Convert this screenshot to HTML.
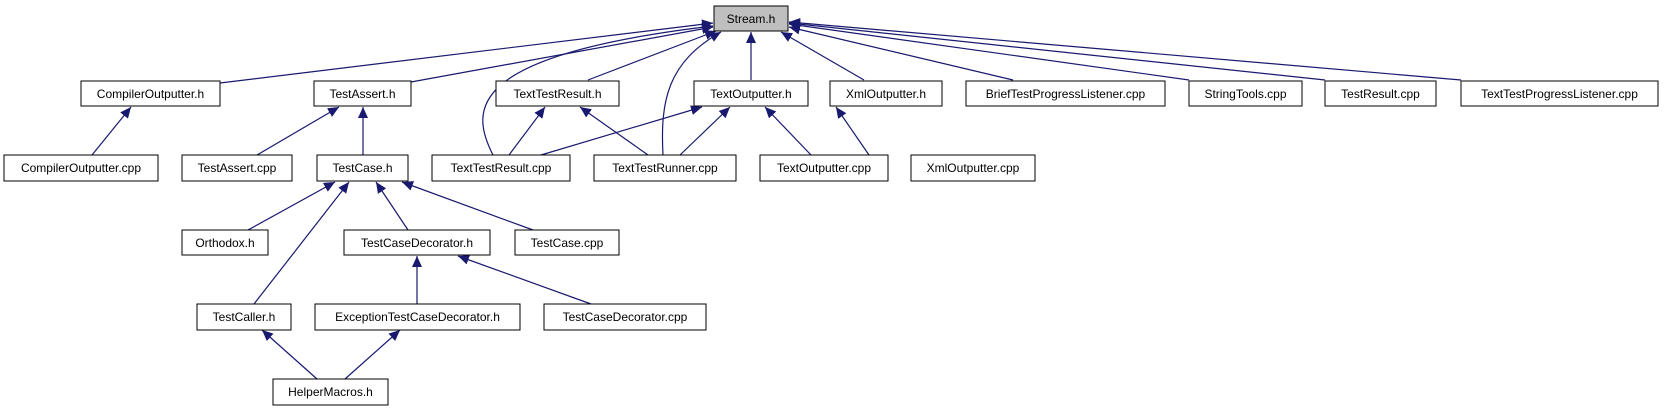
<!DOCTYPE html>
<html><head><meta charset="utf-8"><style>
html,body{margin:0;padding:0;background:#fff;}
svg{display:block;}
text{font-family:"Liberation Sans",sans-serif;font-size:12px;fill:#000;}
</style></head><body>
<svg width="1664" height="411" viewBox="0 0 1664 411" xmlns="http://www.w3.org/2000/svg">
<defs>
<marker id="a" markerUnits="userSpaceOnUse" markerWidth="12" markerHeight="10" refX="11" refY="5" orient="auto">
<path d="M0,0 L11,5 L0,10 Z" fill="#191970"/>
</marker>
</defs>
<g stroke="#191970" stroke-width="1.2" fill="none" marker-end="url(#a)">
<line x1="220" y1="83" x2="713" y2="23"/>
<line x1="411" y1="82" x2="713" y2="27"/>
<path d="M493,155 C470,110 465,55 713,26"/>
<line x1="588" y1="80" x2="716" y2="31"/>
<path d="M663,155 C660,100 668,62 721,32"/>
<line x1="751" y1="80" x2="751" y2="32"/>
<line x1="864" y1="80" x2="781" y2="32"/>
<line x1="1013" y1="80" x2="789" y2="27"/>
<line x1="1189" y1="80" x2="789" y2="24"/>
<line x1="1325" y1="80" x2="789" y2="23"/>
<line x1="1461" y1="80" x2="789" y2="22"/>
<line x1="92" y1="155" x2="131" y2="107"/>
<line x1="257" y1="155" x2="339" y2="107"/>
<line x1="363" y1="155" x2="363" y2="107"/>
<line x1="509" y1="155" x2="545" y2="107"/>
<line x1="648" y1="155" x2="580" y2="107"/>
<line x1="541" y1="155" x2="702" y2="107"/>
<line x1="680" y1="155" x2="730" y2="107"/>
<line x1="811" y1="155" x2="765" y2="107"/>
<line x1="869" y1="155" x2="836" y2="107"/>
<line x1="248" y1="230" x2="335" y2="182"/>
<line x1="254" y1="304" x2="349" y2="182"/>
<line x1="408" y1="230" x2="376" y2="182"/>
<line x1="533" y1="230" x2="402" y2="182"/>
<line x1="417" y1="304" x2="417" y2="256"/>
<line x1="591" y1="304" x2="458" y2="256"/>
<line x1="317" y1="379" x2="262" y2="330"/>
<line x1="345" y1="379" x2="400" y2="330"/>
</g>
<g stroke="#000" stroke-width="1" fill="#fff">
<rect x="714" y="6" width="74" height="25" fill="#bfbfbf"/>
<rect x="81" y="81" width="139" height="25"/>
<rect x="314" y="81" width="97" height="25"/>
<rect x="496" y="81" width="123" height="25"/>
<rect x="694" y="81" width="114" height="25"/>
<rect x="830" y="81" width="112" height="25"/>
<rect x="966" y="81" width="199" height="25"/>
<rect x="1189" y="81" width="113" height="25"/>
<rect x="1325" y="81" width="111" height="25"/>
<rect x="1461" y="81" width="197" height="25"/>
<rect x="4" y="155" width="154" height="26"/>
<rect x="182" y="155" width="110" height="26"/>
<rect x="317" y="155" width="91" height="26"/>
<rect x="432" y="155" width="138" height="26"/>
<rect x="594" y="155" width="142" height="26"/>
<rect x="760" y="155" width="128" height="26"/>
<rect x="911" y="155" width="124" height="26"/>
<rect x="182" y="230" width="86" height="25"/>
<rect x="344" y="230" width="146" height="25"/>
<rect x="515" y="230" width="104" height="25"/>
<rect x="197" y="304" width="94" height="26"/>
<rect x="315" y="304" width="205" height="26"/>
<rect x="544" y="304" width="162" height="26"/>
<rect x="273" y="379" width="115" height="26"/>
</g>
<g text-anchor="middle">
<text x="751" y="23">Stream.h</text>
<text x="150.5" y="98">CompilerOutputter.h</text>
<text x="362.5" y="98">TestAssert.h</text>
<text x="557.5" y="98">TextTestResult.h</text>
<text x="751" y="98">TextOutputter.h</text>
<text x="886" y="98">XmlOutputter.h</text>
<text x="1065.5" y="98">BriefTestProgressListener.cpp</text>
<text x="1245.5" y="98">StringTools.cpp</text>
<text x="1380.5" y="98">TestResult.cpp</text>
<text x="1559.5" y="98">TextTestProgressListener.cpp</text>
<text x="81" y="172">CompilerOutputter.cpp</text>
<text x="237" y="172">TestAssert.cpp</text>
<text x="362.5" y="172">TestCase.h</text>
<text x="501" y="172">TextTestResult.cpp</text>
<text x="665" y="172">TextTestRunner.cpp</text>
<text x="824" y="172">TextOutputter.cpp</text>
<text x="973" y="172">XmlOutputter.cpp</text>
<text x="225" y="247">Orthodox.h</text>
<text x="417" y="247">TestCaseDecorator.h</text>
<text x="567" y="247">TestCase.cpp</text>
<text x="244" y="321">TestCaller.h</text>
<text x="417.5" y="321">ExceptionTestCaseDecorator.h</text>
<text x="625" y="321">TestCaseDecorator.cpp</text>
<text x="330.5" y="396">HelperMacros.h</text>
</g>
</svg>
</body></html>
